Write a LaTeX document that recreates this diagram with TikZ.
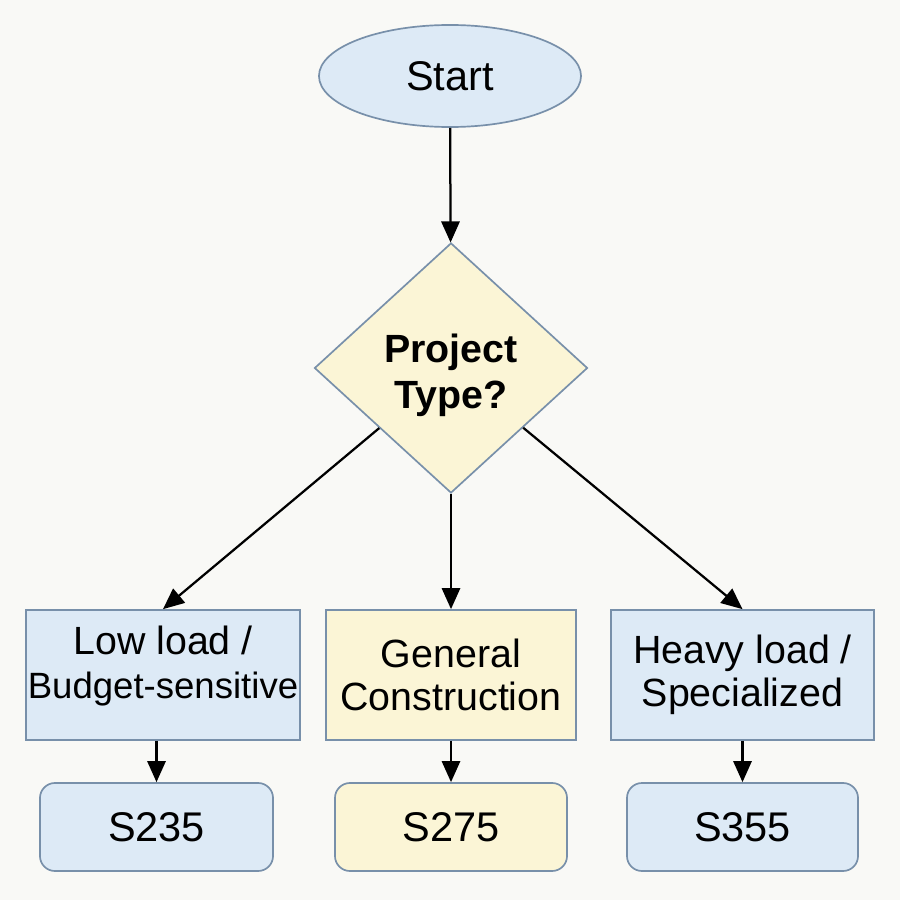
\documentclass[tikz,border=0pt]{standalone}
\usepackage{fontspec}
\setmainfont{Liberation Sans}
\usetikzlibrary{shapes.geometric,arrows.meta}

\definecolor{bgcol}{HTML}{F9F9F6}
\definecolor{edgecol}{HTML}{7890AA}
\definecolor{bluefill}{HTML}{DDEAF6}
\definecolor{yellowfill}{HTML}{FBF5D6}

\begin{document}
\begin{tikzpicture}[x=0.025cm,y=-0.025cm,
    base/.style={draw=edgecol,line width=1.2pt,inner sep=0pt,align=center,
        font=\fontsize{28}{31}\selectfont},
    startnode/.style={base,ellipse,fill=bluefill,minimum width=6.55cm,minimum height=2.55cm,
        font=\fontsize{29.5}{32}\selectfont},
    decision/.style={base,diamond,fill=yellowfill,minimum width=6.825cm,minimum height=6.25cm,
        font=\fontsize{28}{33}\selectfont\bfseries},
    choice/.style={base,rectangle,minimum height=3.25cm},
    grade/.style={base,rectangle,rounded corners=0.375cm,minimum height=2.2cm,
        font=\fontsize{29.5}{32}\selectfont},
    flow/.style={-{Triangle[length=15pt,width=13pt]},line width=1.6pt,black}]

    \fill[bgcol] (0,0) rectangle (900,900); % background

    \node[startnode] (start) at (450,76) {Start};
    \node[decision] (type) at (451,368) {\rule{0pt}{31pt}Project\\Type?};

    \node[choice,fill=bluefill,minimum width=6.85cm] (low) at (163,675)
        {Low load /\\{\fontsize{26}{31}\selectfont Budget-sensitive}\rule[-18pt]{0pt}{18pt}};
    \node[choice,fill=yellowfill,minimum width=6.25cm] (general) at (451,675) {General\\Construction};
    \node[choice,fill=bluefill,minimum width=6.575cm] (heavy) at (742.5,675) {Heavy load /\\Specialized};

    \node[grade,fill=bluefill,minimum width=5.825cm] (s235) at (156.5,827) {S235};
    \node[grade,fill=yellowfill,minimum width=5.8cm] (s275) at (451,827) {S275};
    \node[grade,fill=bluefill,minimum width=5.775cm] (s355) at (742.5,827) {S355};

    \draw[flow] (start) -- (type);
    \draw[flow] (type) -- (low.north);
    \draw[flow] (type) -- (general);
    \draw[flow] (type) -- (heavy.north);

    % short arrows down to the grades
    \draw[flow] (s235.north |- low.south) -- (s235.north);
    \draw[flow] (general) -- (s275);
    \draw[flow] (s355.north |- heavy.south) -- (s355.north);
\end{tikzpicture}
\end{document}
